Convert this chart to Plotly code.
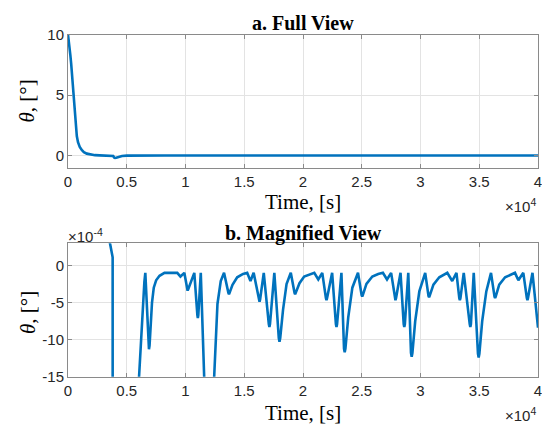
import plotly.graph_objects as go

# ---- data: time [s], theta [deg] ----
t_early = [0, 60, 130, 200, 270, 340, 430, 530, 640, 750, 850, 1000, 1170, 1350, 1600, 1900, 2300, 2700, 3100, 3400]
th_early = [10, 9.6, 9.0, 8.3, 7.6, 6.8, 5.5, 4.15, 2.7, 1.6, 1.1, 0.7, 0.45, 0.28, 0.15, 0.07, 0.025, 0.008, 0.002, 0.0008]

t_dip = [3570, 3800, 3850, 3920, 4000, 4100, 4300, 4600, 5000, 5500, 5800]
th_dip = [3e-4, 1.1e-4, -0.05, -0.17, -0.21, -0.19, -0.12, -0.05, -0.015, -0.004, -0.0022]

# tail values in units of 1e-4 deg
TAIL_UNIT = 1e-4
t_tail = [6050, 6200, 6350, 6500, 6580, 6750, 6850, 6890, 6940, 7050, 7150, 7300, 7500, 7790, 8210, 9300, 9570, 9900, 10130, 10180, 10230, 10750, 11010, 11050, 11090, 11300, 11590, 12000, 12440, 12720, 13000, 13280,
          13650, 13700, 13750, 14000, 14400, 14900, 15250, 15530, 15800, 16250, 16300, 16350, 16660, 17090, 17140, 17190, 17560, 17940, 18000, 18060, 18300, 18600, 18960,
          19280, 19330, 19380, 19700, 20100, 20600, 20960, 21300, 21640, 21950, 22000, 22050, 22480, 22800, 22850, 22900, 23270, 23490, 23550, 23610, 23850, 24200, 24680,
          24990, 25040, 25090, 25400, 25900, 26400, 26800, 27150, 27500, 27820, 27870, 27920, 28300, 28570, 28620, 28670, 28960, 29190, 29250, 29310, 29550, 29900, 30400,
          30680, 30730, 30780, 31100, 31600, 32000, 32280, 32700, 33060, 33300, 33350, 33400, 33680, 34190, 34240, 34290, 34530, 34890, 34950, 35010, 35250, 35600, 36000,
          36300, 36350, 36400, 36700, 37200, 37700, 38040, 38330, 38750, 39050, 39100, 39150, 39530, 40000]
th_tail = [-15, -9.5, -5.5, -2.2, -1.0, -6.5, -10.8, -11.3, -10.8, -7.5, -5.0, -3.0, -2.0, -1.4, -1.0, -1.0, -1.5, -1.0, -3.2, -3.4, -3.2, -1.0, -6.7, -7.1, -6.7, -1.0, -15, -35, -15, -5.2, -2.1, -1.0,
           -3.7, -3.9, -3.7, -2.6, -1.6, -1.15, -1.0, -2.1, -1.0, -4.6, -4.9, -4.6, -1.0, -7.9, -8.3, -7.9, -1.0, -9.8, -10.3, -9.8, -6.0, -2.5, -1.0,
           -3.7, -3.9, -3.7, -2.4, -1.5, -1.15, -1.0, -1.9, -1.0, -4.4, -4.7, -4.4, -1.0, -7.9, -8.3, -7.9, -1.0, -11.2, -11.7, -11.2, -7.0, -3.0, -1.0,
           -4.0, -4.2, -4.0, -2.5, -1.5, -1.15, -1.0, -1.9, -1.0, -4.4, -4.7, -4.4, -1.0, -7.9, -8.3, -7.9, -1.0, -11.8, -12.3, -11.8, -7.5, -3.5, -1.0,
           -4.1, -4.3, -4.1, -2.6, -1.6, -1.2, -1.0, -2.1, -1.0, -4.4, -4.7, -4.4, -1.0, -7.9, -8.3, -7.9, -1.0, -11.9, -12.4, -11.9, -7.5, -3.5, -1.0,
           -4.2, -4.4, -4.2, -2.6, -1.6, -1.2, -1.0, -2.0, -1.0, -4.4, -4.7, -4.4, -1.0, -8.4]

x_tickvals = [0, 5000, 10000, 15000, 20000, 25000, 30000, 35000, 40000]
x_ticktext = ["0", "0.5", "1", "1.5", "2", "2.5", "3", "3.5", "4"]
y1_tickvals = [0, 5, 10]
y1_ticktext = ["0", "5", "10"]
y2_tickvals = [-15e-4, -10e-4, -5e-4, 0]
y2_ticktext = ["-15", "-10", "-5", "0"]

t_all = t_early + t_dip + t_tail
th_all = th_early + th_dip + [v * TAIL_UNIT for v in th_tail]

LINE = "#0072BD"
AX = "#8a8a8a"
GRID = "#e3e3e3"
TICKFONT = dict(family="Liberation Sans, Arial", size=15, color="#262626")

H = 434.0
W = 542.0
L = 68
PW = W - L

fig = go.Figure()
fig.add_trace(go.Scatter(x=t_all, y=th_all, mode="lines", line=dict(color=LINE, width=2.6),
                         xaxis="x", yaxis="y", showlegend=False))
fig.add_trace(go.Scatter(x=t_all, y=th_all, mode="lines", line=dict(color=LINE, width=2.6),
                         xaxis="x2", yaxis="y2", showlegend=False))

common_x = dict(range=[0, 40000], tickvals=x_tickvals, ticktext=x_ticktext, showgrid=True,
                gridcolor=GRID, gridwidth=1, showline=True, linecolor=AX, linewidth=1, mirror="ticks",
                ticks="inside", ticklen=4, tickcolor=AX, tickfont=TICKFONT, zeroline=False, domain=[0, 1],
                ticklabeloverflow="allow")
common_y = dict(showgrid=True, gridcolor=GRID, gridwidth=1, showline=True, linecolor=AX, linewidth=1,
                mirror="ticks", ticks="inside", ticklen=4, tickcolor=AX, tickfont=TICKFONT, zeroline=False)

top = (26.7, 165.0)
bot = (243.7, 382.7)

fig.update_layout(
    width=542, height=434,
    margin=dict(l=L, r=0, t=0, b=0),
    paper_bgcolor="white", plot_bgcolor="white",
    xaxis=dict(**common_x, anchor="y"),
    yaxis=dict(**common_y, range=[-1, 10], tickvals=y1_tickvals, ticktext=y1_ticktext,
               domain=[1 - top[1] / H, 1 - top[0] / H], anchor="x"),
    xaxis2=dict(**common_x, anchor="y2"),
    yaxis2=dict(**common_y, range=[-15e-4, 3e-4], tickvals=y2_tickvals, ticktext=y2_ticktext,
                domain=[1 - bot[1] / H, 1 - bot[0] / H], anchor="x2"),
)

serif = "Liberation Serif, Times New Roman, serif"
ann = []
def add(text, x, y, size, family, xanchor="center", yanchor="middle", angle=0, color="black"):
    ann.append(dict(text=text, x=(x - L) / PW, y=1 - y / H, xref="paper", yref="paper", showarrow=False,
                    xanchor=xanchor, yanchor=yanchor, textangle=angle,
                    font=dict(family=family, size=size, color=color)))

add("<b>a. Full View</b>", 305, 15, 20, serif)
add("<b>b. Magnified View</b>", 305, 234, 20, serif)
add("Time, [s]", 305, 201, 21, serif)
add("Time, [s]", 305, 420, 21, serif)
add("<i>θ</i>, [°]", 27, 96, 21, serif, angle=-90)
add("<i>θ</i>, [°]", 27, 316, 21, serif, angle=-90)
add("×10<sup>4</sup>", 542, 205, 15, "Liberation Sans, Arial", xanchor="right", color="#262626")
add("×10<sup>4</sup>", 542, 422, 15, "Liberation Sans, Arial", xanchor="right", color="#262626")
add("×10<sup>-4</sup>", 66, 236, 15, "Liberation Sans, Arial", xanchor="left", color="#262626")
fig.update_layout(annotations=ann)

fig.write_html("out.html")
